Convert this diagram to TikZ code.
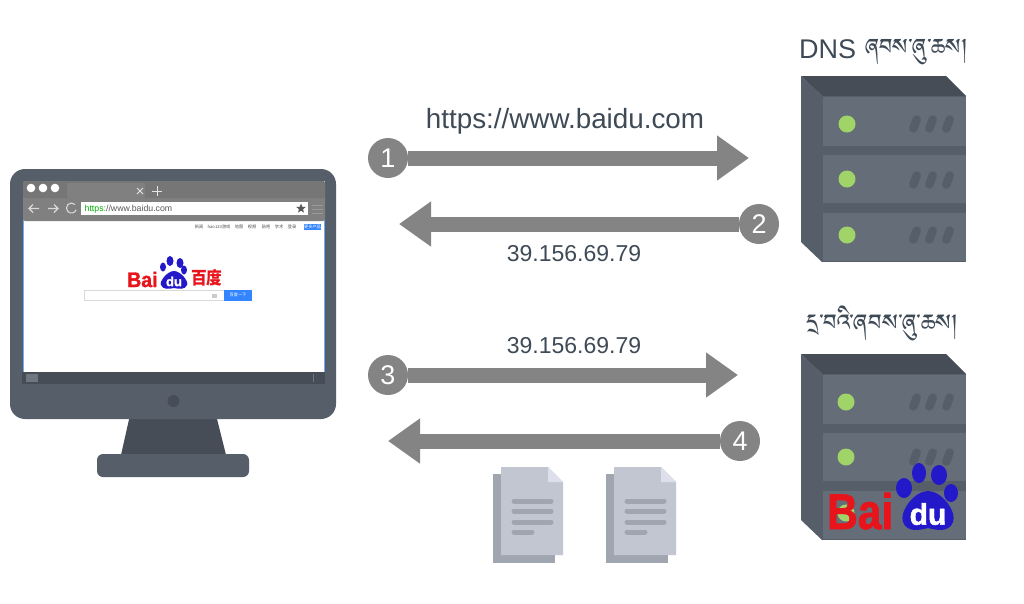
\documentclass[tikz,border=0pt]{standalone}
\usepackage{fontspec}
\usetikzlibrary{arrows.meta,shapes.geometric}
\setmainfont{Liberation Sans}
\newfontfamily\cjk{Noto Sans CJK SC}
\newfontfamily\heavy{Liberation Sans}[UprightFont=* Bold,FakeBold=1.6]
\newfontfamily\tib[Script=Tibetan]{Jomolhari}
\definecolor{ink}{HTML}{3F4A57}
\definecolor{arrowgray}{HTML}{848484}
\definecolor{body}{HTML}{565E69}
\definecolor{dark}{HTML}{474D57}
\definecolor{panel}{HTML}{656D78}
\definecolor{led}{HTML}{A0D468}
\definecolor{chrome}{HTML}{808080}
\definecolor{chromedark}{HTML}{767676}
\definecolor{baiduRed}{HTML}{E8141C}
\definecolor{baiduBlue}{HTML}{2319C8}
\definecolor{btn}{HTML}{3385FF}
\definecolor{docFront}{HTML}{C1C6D1}
\definecolor{docBack}{HTML}{A0A6B0}
\definecolor{docFold}{HTML}{DDE0EA}
\tikzset{
  x=1pt,y=-1pt,
  num/.style={circle,fill=arrowgray,minimum size=40pt,inner sep=0pt,text=white,font=\fontsize{27}{27}\selectfont},
  flow/.style={arrowgray,line width=15pt,-{Triangle[length=32pt,width=43pt]}},
  lbl/.style={text=ink,inner sep=0pt,font=\fontsize{23}{23}\selectfont},
  captxt/.style={text=ink,inner sep=0pt},
  tiny/.style={text=black!70,inner sep=0pt,font=\cjk\fontsize{4.2}{4.2}\selectfont},
  pill/.pic={\fill[body,rotate=-20,rounded corners=4pt] (-4.2,-9) rectangle (4.2,9);},
}
\newcommand{\srv}[1]{%
\begin{scope}[yshift=-#1pt]
\fill[body] (801,76)--(822,96)--(822,262)--(801,242)--cycle;
\fill[dark] (801,76)--(946,76)--(966,96)--(822,96)--cycle;
\fill[body] (822,96) rectangle (966,262);
\foreach \a/\b in {97/146,155/203,213/261}{\fill[panel] (823,\a) rectangle (966,\b);}
\end{scope}}
\newcommand{\docu}[1]{%
\begin{scope}[xshift=#1pt]
\fill[docBack] (493,474) rectangle (555,563);
\fill[docFront] (501,467)--(548,467)--(563,482)--(563,555)--(501,555)--cycle;
\fill[docFold] (548,467)--(563,482)--(548,482)--cycle;
\foreach \yy/\xe in {501/551,511/551,522/551,532/532}{\draw[docBack,line width=5pt,line cap=round] (514,\yy)--(\xe,\yy);}
\end{scope}}
\begin{document}
\begin{tikzpicture}
\useasboundingbox (0,0) rectangle (1024,603);
\fill[white] (0,0) rectangle (1024,603);
% monitor
\fill[dark] (130,415)--(216,415)--(226,455)--(121,455)--cycle;
\fill[body,rounded corners=6pt] (97,454) rectangle (249,477);
\fill[body,rounded corners=15pt] (10,169) rectangle (336,419);
\fill[dark] (22,372) rectangle (325,384);
\fill[body!85!white] (26,374) rectangle (38,382);
\fill[body!85!white] (312.5,374) rectangle (313.5,382);
\fill[dark] (173.5,401) circle (6);
\fill[white] (24,181) rectangle (325,372);
\draw[btn!70!white,line width=0.8pt] (23.5,372)--(23.5,185);
\draw[btn!70!white,line width=0.8pt] (324.5,372)--(324.5,185);
% browser chrome
\fill[chrome,rounded corners=2pt] (23,181) rectangle (325,221);
\fill[chromedark,rounded corners=2pt] (23,181) rectangle (325,198);
\fill[chrome] (67,183) rectangle (145,198);
\fill[white] (31,188) circle (4.3) (43,188) circle (4.3) (55,188) circle (4.3);
\draw[white!90!black,line width=1pt] (137,188)--(143,194) (143,188)--(137,194);
\draw[white!90!black,line width=1pt] (157,186)--(157,196) (152,191)--(162,191);
\draw[white!85!black,line width=1.1pt] (39,208.5)--(29,208.5) (33,204.5)--(29,208.5)--(33,212.5);
\draw[white!85!black,line width=1.1pt] (48,208.5)--(58,208.5) (54,204.5)--(58,208.5)--(54,212.5);
\draw[white!85!black,line width=1.1pt] (75,204.5) arc (-45:-340:5);
\fill[white] (81,202) rectangle (308,215);
\node[inner sep=0pt,anchor=west,text=black!65,font=\fontsize{8.75}{9}\selectfont] (urlbar) at (84.5,209) {\textcolor{green!70!black}{https:}//www.baidu.com};
\node[star,star points=5,star point ratio=2.3,fill=black!65,inner sep=0pt,minimum size=10pt] (starbtn) at (301,208.5) {};
\draw[black!40,line width=0.9pt] (312,205)--(323,205) (312,209)--(323,209) (312,213)--(323,213);
% page header
\node[tiny] (l1) at (199,227) {新闻};
\node[tiny] (l2) at (219,227) {hao123游戏};
\node[tiny] (l3) at (239,227) {地图};
\node[tiny] (l4) at (252,227) {视频};
\node[tiny] (l5) at (266,227) {贴吧};
\node[tiny] (l6) at (279,227) {学术};
\node[tiny] (l7) at (292,227) {登录};
\node[fill=btn,text=white,inner sep=0pt,minimum width=17pt,minimum height=6pt,font=\cjk\fontsize{4.2}{4.2}\selectfont] (more) at (312.5,227) {更多产品};
% page logo
\node[inner sep=0pt,anchor=base west,text=baiduRed,xscale=.93,font=\heavy\fontsize{21}{21}\selectfont] (pbai) at (127,287) {Bai};
\fill[baiduBlue] (170,261) ellipse (3.5 and 5) (180,263) ellipse (3.5 and 5) (163,267) ellipse (3 and 4.5) (184,270) ellipse (3 and 4.5);
\fill[baiduBlue] (174,271) .. controls (181,271) and (189,282) .. (187,285) .. controls (185,290) and (179,289) .. (174,288) .. controls (169,289) and (163,290) .. (161,285) .. controls (159,282) and (167,271) .. (174,271) -- cycle;
\node[inner sep=0pt,text=white,font=\heavy\fontsize{13}{13}\selectfont] (pdu) at (174,281.5) {du};
\node[inner sep=0pt,anchor=west,text=baiduRed,xscale=.9,font=\cjk\bfseries\fontsize{17.5}{18}\selectfont] (pcn) at (191,278) {百度};
% search
\draw[black!15,line width=0.6pt] (84,290.5) rectangle (224,300.5);
\fill[black!20] (212,293.5) rectangle (217,297.5);
\node[fill=btn,text=white,inner sep=0pt,minimum width=28pt,minimum height=10.5pt,font=\cjk\fontsize{4.2}{4.2}\selectfont] (go) at (238,295.3) {百度一下};
% arrows
\node[num] (n1) at (388,158) {1};
\coordinate (t1) at (749,158);
\draw[flow] (n1)--(t1);
\node[num] (n2) at (759,224) {2};
\coordinate (t2) at (399,224);
\draw[flow] (n2)--(t2);
\node[num] (n3) at (388,375) {3};
\coordinate (t3) at (738,375);
\draw[flow] (n3)--(t3);
\node[num] (n4) at (740,441) {4};
\coordinate (t4) at (388,441);
\draw[flow] (n4)--(t4);
\node[lbl,font=\fontsize{27.8}{28}\selectfont] (u) at (565,121.5) {https://www.baidu.com};
\node[lbl] (ip1) at (574,254) {39.156.69.79};
\node[lbl] (ip2) at (574,346) {39.156.69.79};
% servers
\srv{0}
\srv{278}
\foreach \p in {(847,124),(847,179),(847,235),(846,402),(846,457),(846,513)}{\fill[led] \p circle (8.5);}
\foreach \yy in {124,180,402,457}{\foreach \xx in {915,931,948}{\pic at (\xx,\yy) {pill};}}
\foreach \xx in {915,931,948}{\pic at (\xx,235) {pill};}
\node[captxt,anchor=base west,font=\fontsize{27}{27}\selectfont] (dns) at (799,58) {DNS};
\node[captxt,anchor=base west,font=\tib\fontsize{28.5}{28}\selectfont] (dnst) at (865,60) {ཞབས་ཞུ་ཆས།};
\node[captxt,anchor=base west,font=\tib\fontsize{29}{29}\selectfont] (webt) at (806,336) {དྲ་བའི་ཞབས་ཞུ་ཆས།};
% baidu on server
\node[inner sep=0pt,anchor=base west,text=baiduRed,font=\heavy\fontsize{50}{50}\selectfont,xscale=.85] (sbai) at (827,529) {Bai};
\fill[baiduBlue] (904,488) ellipse (8 and 10) (919,473) ellipse (7 and 10) (939,475) ellipse (8 and 10) (951,493) ellipse (7 and 9);
\fill[baiduBlue] (928,491) .. controls (942,491) and (957,512) .. (953,522) .. controls (949,533) and (936,530) .. (928,528) .. controls (920,530) and (907,533) .. (903,522) .. controls (899,512) and (914,491) .. (928,491) -- cycle;
\node[inner sep=0pt,text=white,font=\heavy\fontsize{30}{30}\selectfont] (sdu) at (928,514) {du};
% documents
\docu{0}
\docu{113}
\end{tikzpicture}
\end{document}
